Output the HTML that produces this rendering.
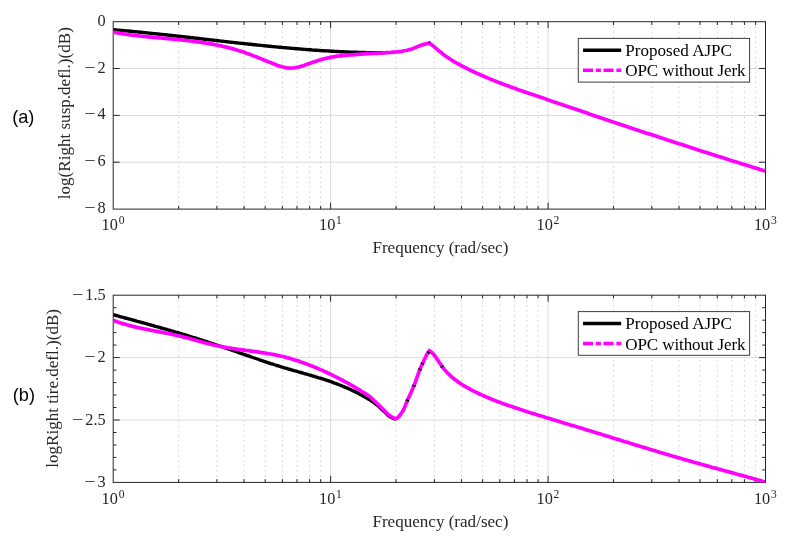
<!DOCTYPE html>
<html lang="en">
<head>
<meta charset="utf-8">
<title>Frequency response comparison</title>
<style>
html,body{margin:0;padding:0;background:#fff;}
body{width:788px;height:541px;overflow:hidden;}
svg{display:block;}
text{white-space:pre;}
</style>
</head>
<body>
<svg width="788" height="541" viewBox="0 0 788 541">
<rect width="788" height="541" fill="#fff"/>
<g font-family="'Liberation Serif', 'DejaVu Serif', serif">
<clipPath id="ca"><rect x="113.2" y="21.7" width="652.3" height="187.4"/></clipPath>
<path d="M178.7,21.7V209.1M216.9,21.7V209.1M244.1,21.7V209.1M265.2,21.7V209.1M282.4,21.7V209.1M297.0,21.7V209.1M309.6,21.7V209.1M320.7,21.7V209.1M396.1,21.7V209.1M434.4,21.7V209.1M461.5,21.7V209.1M482.6,21.7V209.1M499.8,21.7V209.1M514.4,21.7V209.1M527.0,21.7V209.1M538.1,21.7V209.1M613.5,21.7V209.1M651.8,21.7V209.1M679.0,21.7V209.1M700.0,21.7V209.1M717.3,21.7V209.1M731.8,21.7V209.1M744.4,21.7V209.1M755.6,21.7V209.1" stroke="#c9c9c9" stroke-width="1" stroke-dasharray="1.3 3.7" fill="none"/>
<path d="M330.6,21.7V209.1M548.1,21.7V209.1M113.2,68.5H765.5M113.2,115.4H765.5M113.2,162.2H765.5" stroke="#dcdcdc" stroke-width="1" fill="none"/>
<path d="M178.7,209.1v-3.3M178.7,21.7v3.3M216.9,209.1v-3.3M216.9,21.7v3.3M244.1,209.1v-3.3M244.1,21.7v3.3M265.2,209.1v-3.3M265.2,21.7v3.3M282.4,209.1v-3.3M282.4,21.7v3.3M297.0,209.1v-3.3M297.0,21.7v3.3M309.6,209.1v-3.3M309.6,21.7v3.3M320.7,209.1v-3.3M320.7,21.7v3.3M330.6,209.1v-6.5M330.6,21.7v6.5M396.1,209.1v-3.3M396.1,21.7v3.3M434.4,209.1v-3.3M434.4,21.7v3.3M461.5,209.1v-3.3M461.5,21.7v3.3M482.6,209.1v-3.3M482.6,21.7v3.3M499.8,209.1v-3.3M499.8,21.7v3.3M514.4,209.1v-3.3M514.4,21.7v3.3M527.0,209.1v-3.3M527.0,21.7v3.3M538.1,209.1v-3.3M538.1,21.7v3.3M548.1,209.1v-6.5M548.1,21.7v6.5M613.5,209.1v-3.3M613.5,21.7v3.3M651.8,209.1v-3.3M651.8,21.7v3.3M679.0,209.1v-3.3M679.0,21.7v3.3M700.0,209.1v-3.3M700.0,21.7v3.3M717.3,209.1v-3.3M717.3,21.7v3.3M731.8,209.1v-3.3M731.8,21.7v3.3M744.4,209.1v-3.3M744.4,21.7v3.3M755.6,209.1v-3.3M755.6,21.7v3.3M113.2,68.5h6.5M765.5,68.5h-6.5M113.2,115.4h6.5M765.5,115.4h-6.5M113.2,162.2h6.5M765.5,162.2h-6.5" stroke="#262626" stroke-width="1" fill="none"/>
<rect x="113.2" y="21.7" width="652.3" height="187.4" fill="none" stroke="#262626" stroke-width="1"/>
<g clip-path="url(#ca)" fill="none" stroke-linejoin="miter" stroke-miterlimit="3">
<path d="M113.3,29.7 L114.8,29.8 L116.3,30.0 L117.8,30.1 L119.3,30.2 L120.8,30.4 L122.3,30.5 L123.8,30.6 L125.3,30.8 L126.8,30.9 L128.3,31.0 L129.8,31.2 L131.2,31.3 L132.7,31.5 L134.2,31.6 L135.7,31.7 L137.2,31.9 L138.7,32.0 L140.2,32.2 L141.7,32.3 L143.2,32.5 L144.7,32.6 L146.2,32.8 L147.7,32.9 L149.2,33.1 L150.7,33.3 L152.2,33.4 L153.7,33.6 L155.2,33.7 L156.7,33.9 L158.2,34.0 L159.7,34.2 L161.2,34.4 L162.7,34.5 L164.1,34.7 L165.6,34.8 L167.1,35.0 L168.6,35.2 L170.1,35.3 L171.6,35.5 L173.1,35.7 L174.6,35.8 L176.1,36.0 L177.6,36.2 L179.1,36.3 L180.6,36.5 L182.1,36.7 L183.6,36.8 L185.1,37.0 L186.6,37.2 L188.1,37.3 L189.6,37.5 L191.1,37.7 L192.6,37.8 L194.1,38.0 L195.6,38.2 L197.1,38.3 L198.5,38.5 L200.0,38.7 L201.5,38.9 L203.0,39.0 L204.5,39.2 L206.0,39.4 L207.5,39.5 L209.0,39.7 L210.5,39.9 L212.0,40.0 L213.5,40.2 L215.0,40.4 L216.5,40.5 L218.0,40.7 L219.5,40.9 L221.0,41.1 L222.5,41.2 L224.0,41.4 L225.5,41.6 L227.0,41.7 L228.5,41.9 L230.0,42.1 L231.5,42.2 L232.9,42.4 L234.4,42.6 L235.9,42.7 L237.4,42.9 L238.9,43.1 L240.4,43.2 L241.9,43.4 L243.4,43.5 L244.9,43.7 L246.4,43.9 L247.9,44.0 L249.4,44.2 L250.9,44.3 L252.4,44.5 L253.9,44.7 L255.4,44.8 L256.9,45.0 L258.4,45.1 L259.9,45.3 L261.4,45.4 L262.9,45.6 L264.4,45.7 L265.8,45.9 L267.3,46.0 L268.8,46.2 L270.3,46.3 L271.8,46.5 L273.3,46.6 L274.8,46.8 L276.3,46.9 L277.8,47.1 L279.3,47.2 L280.8,47.3 L282.3,47.5 L283.8,47.6 L285.3,47.7 L286.8,47.9 L288.3,48.0 L289.8,48.1 L291.3,48.3 L292.8,48.4 L294.3,48.5 L295.8,48.7 L297.3,48.8 L298.8,48.9 L300.2,49.0 L301.7,49.1 L303.2,49.3 L304.7,49.4 L306.2,49.5 L307.7,49.6 L309.2,49.7 L310.7,49.8 L312.2,50.0 L313.7,50.1 L315.2,50.2 L316.7,50.3 L318.2,50.4 L319.7,50.5 L321.2,50.6 L322.7,50.7 L324.2,50.8 L325.7,50.9 L327.2,50.9 L328.7,51.0 L330.2,51.1 L331.7,51.2 L333.2,51.3 L334.6,51.4 L336.1,51.5 L337.6,51.5 L339.1,51.6 L340.6,51.7 L342.1,51.8 L343.6,51.8 L345.1,51.9 L346.6,52.0 L348.1,52.0 L349.6,52.1 L351.1,52.1 L352.6,52.2 L354.1,52.2 L355.6,52.3 L357.1,52.3 L358.6,52.4 L360.1,52.4 L361.6,52.5 L363.1,52.5 L364.6,52.5 L366.1,52.6 L367.5,52.6 L369.0,52.6 L370.5,52.7 L372.0,52.7 L373.5,52.7 L375.0,52.7 L376.5,52.7 L378.0,52.8 L379.5,52.8 L381.0,52.8 L382.5,52.8 L384.0,52.8" stroke="#000" stroke-width="3.4"/>
<path d="M113.3,32.2 L114.8,32.5 L116.3,32.7 L117.8,33.0 L119.3,33.2 L120.8,33.5 L122.3,33.7 L123.8,33.9 L125.3,34.1 L126.8,34.4 L128.3,34.6 L129.7,34.8 L131.2,35.0 L132.7,35.1 L134.2,35.3 L135.7,35.5 L137.2,35.7 L138.7,35.9 L140.2,36.0 L141.7,36.2 L143.2,36.3 L144.7,36.5 L146.2,36.6 L147.7,36.8 L149.2,36.9 L150.7,37.1 L152.2,37.2 L153.7,37.4 L155.2,37.5 L156.7,37.6 L158.2,37.8 L159.7,37.9 L161.1,38.0 L162.6,38.2 L164.1,38.3 L165.6,38.4 L167.1,38.6 L168.6,38.7 L170.1,38.8 L171.6,39.0 L173.1,39.1 L174.6,39.3 L176.1,39.4 L177.6,39.6 L179.1,39.7 L180.6,39.8 L182.1,40.0 L183.6,40.2 L185.1,40.3 L186.6,40.5 L188.1,40.7 L189.6,40.8 L191.1,41.0 L192.5,41.2 L194.0,41.4 L195.5,41.6 L197.0,41.8 L198.5,42.0 L200.0,42.2 L201.5,42.4 L203.0,42.6 L204.5,42.8 L206.0,43.1 L207.5,43.3 L209.0,43.6 L210.5,43.8 L212.0,44.1 L213.5,44.4 L215.0,44.7 L216.5,45.0 L218.0,45.3 L219.5,45.6 L221.0,45.9 L222.5,46.2 L223.9,46.6 L225.4,46.9 L226.9,47.3 L228.4,47.7 L229.9,48.1 L231.4,48.5 L232.9,48.9 L234.4,49.3 L235.9,49.7 L237.4,50.2 L238.9,50.7 L240.4,51.1 L241.9,51.6 L243.4,52.1 L244.9,52.6 L246.4,53.2 L247.9,53.7 L249.4,54.3 L250.9,54.8 L252.4,55.4 L253.8,56.0 L255.3,56.6 L256.8,57.1 L258.3,57.7 L259.8,58.3 L261.3,58.9 L262.8,59.5 L264.3,60.2 L265.8,60.8 L267.3,61.4 L268.8,62.0 L270.3,62.6 L271.8,63.1 L273.3,63.7 L274.8,64.3 L276.3,64.9 L277.8,65.4 L279.3,65.9 L280.8,66.4 L282.3,66.8 L283.8,67.2 L285.2,67.5 L286.7,67.8 L288.2,68.0 L289.7,68.1 L291.2,68.1 L292.7,68.0 L294.2,67.9 L295.7,67.6 L297.2,67.3 L298.7,67.0 L300.2,66.6 L301.7,66.1 L303.2,65.7 L304.7,65.2 L306.2,64.6 L307.7,64.1 L309.2,63.6 L310.7,63.0 L312.2,62.5 L313.7,62.0 L315.2,61.5 L316.6,61.0 L318.1,60.6 L319.6,60.1 L321.1,59.7 L322.6,59.2 L324.1,58.8 L325.6,58.4 L327.1,58.1 L328.6,57.7 L330.1,57.4 L331.6,57.1 L333.1,56.9 L334.6,56.6 L336.1,56.4 L337.6,56.2 L339.1,56.0 L340.6,55.8 L342.1,55.6 L343.6,55.5 L345.1,55.3 L346.6,55.2 L348.0,55.1 L349.5,55.0 L351.0,54.9 L352.5,54.8 L354.0,54.7 L355.5,54.6 L357.0,54.4 L358.5,54.3 L360.0,54.2 L361.5,54.1 L363.0,54.0 L364.5,53.9 L366.0,53.8 L367.4,53.7 L368.9,53.6 L370.4,53.6 L371.9,53.5 L373.3,53.4 L374.8,53.3 L376.3,53.3 L377.8,53.2 L379.2,53.1 L380.7,53.0 L382.2,53.0 L383.7,52.9 L385.1,52.8 L386.6,52.7 L388.1,52.6 L389.6,52.5 L391.0,52.4 L392.5,52.2 L394.0,52.1 L395.5,52.0 L396.9,51.8 L398.4,51.7 L399.9,51.5 L401.4,51.3 L402.8,51.1 L404.3,50.8 L405.8,50.5 L407.3,50.2 L408.7,49.8 L410.2,49.4 L411.7,48.9 L413.2,48.5 L414.6,47.9 L416.1,47.3 L417.6,46.6 L419.1,46.0 L420.5,45.4 L422.0,44.9 L423.5,44.4 L425.0,44.1 L426.4,43.7 L427.9,43.4 L429.4,43.0 L430.9,44.2 L432.4,45.4 L433.9,46.6 L435.4,47.9 L436.9,49.1 L438.4,50.4 L439.9,51.6 L441.4,52.8 L442.8,54.0 L444.3,55.2 L445.8,56.3 L447.3,57.3 L448.8,58.3 L450.3,59.3 L451.8,60.3 L453.3,61.2 L454.8,62.0 L456.3,62.9 L457.8,63.7 L459.3,64.5 L460.8,65.3 L462.3,66.1 L463.8,66.9 L465.3,67.6 L466.7,68.4 L468.2,69.1 L469.7,69.8 L471.2,70.6 L472.7,71.3 L474.2,72.0 L475.7,72.7 L477.2,73.4 L478.7,74.0 L480.2,74.7 L481.7,75.4 L483.2,76.0 L484.7,76.7 L486.2,77.3 L487.7,77.9 L489.2,78.6 L490.6,79.2 L492.1,79.8 L493.6,80.4 L495.1,81.0 L496.6,81.6 L498.1,82.2 L499.6,82.7 L501.1,83.3 L502.6,83.9 L504.1,84.5 L505.6,85.0 L507.1,85.6 L508.6,86.1 L510.1,86.7 L511.6,87.2 L513.1,87.8 L514.5,88.3 L516.0,88.8 L517.5,89.4 L519.0,89.9 L520.5,90.4 L522.0,90.9 L523.5,91.5 L525.0,92.0 L526.5,92.5 L528.0,93.0 L529.5,93.5 L531.0,94.0 L532.5,94.6 L534.0,95.1 L535.5,95.6 L537.0,96.1 L538.4,96.6 L539.9,97.1 L541.4,97.6 L542.9,98.1 L544.4,98.6 L545.9,99.1 L547.4,99.7 L548.9,100.2 L550.4,100.7 L551.9,101.2 L553.4,101.7 L554.9,102.2 L556.4,102.7 L557.9,103.2 L559.4,103.7 L560.9,104.2 L562.3,104.7 L563.8,105.2 L565.3,105.8 L566.8,106.3 L568.3,106.8 L569.8,107.3 L571.3,107.8 L572.8,108.3 L574.3,108.8 L575.8,109.3 L577.3,109.8 L578.8,110.3 L580.3,110.8 L581.8,111.3 L583.3,111.8 L584.8,112.3 L586.2,112.8 L587.7,113.3 L589.2,113.9 L590.7,114.4 L592.2,114.9 L593.7,115.4 L595.2,115.9 L596.7,116.4 L598.2,116.9 L599.7,117.4 L601.2,117.9 L602.7,118.4 L604.2,118.9 L605.7,119.4 L607.2,119.9 L608.7,120.4 L610.1,120.9 L611.6,121.4 L613.1,121.9 L614.6,122.4 L616.1,122.9 L617.6,123.4 L619.1,123.9 L620.6,124.4 L622.1,124.9 L623.6,125.4 L625.1,125.9 L626.6,126.4 L628.1,126.9 L629.6,127.4 L631.1,127.9 L632.6,128.4 L634.0,128.9 L635.5,129.4 L637.0,129.9 L638.5,130.4 L640.0,130.9 L641.5,131.4 L643.0,131.9 L644.5,132.4 L646.0,132.9 L647.5,133.4 L649.0,133.9 L650.5,134.3 L652.0,134.8 L653.5,135.3 L655.0,135.8 L656.5,136.3 L657.9,136.8 L659.4,137.3 L660.9,137.8 L662.4,138.3 L663.9,138.8 L665.4,139.3 L666.9,139.8 L668.4,140.2 L669.9,140.7 L671.4,141.2 L672.9,141.7 L674.4,142.2 L675.9,142.7 L677.4,143.2 L678.9,143.7 L680.4,144.1 L681.8,144.6 L683.3,145.1 L684.8,145.6 L686.3,146.1 L687.8,146.6 L689.3,147.1 L690.8,147.5 L692.3,148.0 L693.8,148.5 L695.3,149.0 L696.8,149.5 L698.3,150.0 L699.8,150.4 L701.3,150.9 L702.8,151.4 L704.3,151.9 L705.7,152.4 L707.2,152.8 L708.7,153.3 L710.2,153.8 L711.7,154.3 L713.2,154.7 L714.7,155.2 L716.2,155.7 L717.7,156.2 L719.2,156.6 L720.7,157.1 L722.2,157.6 L723.7,158.1 L725.2,158.5 L726.7,159.0 L728.2,159.5 L729.6,160.0 L731.1,160.4 L732.6,160.9 L734.1,161.4 L735.6,161.8 L737.1,162.3 L738.6,162.8 L740.1,163.2 L741.6,163.7 L743.1,164.2 L744.6,164.6 L746.1,165.1 L747.6,165.6 L749.1,166.0 L750.6,166.5 L752.1,167.0 L753.5,167.4 L755.0,167.9 L756.5,168.3 L758.0,168.8 L759.5,169.3 L761.0,169.7 L762.5,170.2 L764.0,170.6 L765.5,171.1" stroke="#ff00ff" stroke-width="3.7"/>
<path d="M-0.6,0H0.6" transform="translate(429.4,42.2) rotate(0)" stroke="#000" stroke-width="1.4"/>
</g>
<rect x="578.3" y="38.4" width="171.3" height="43.7" fill="#fff" stroke="#3c3c3c" stroke-width="1"/>
<path d="M583,50.3H621.2" stroke="#000" stroke-width="3.5" fill="none"/>
<path d="M583,70.2H621.2" stroke="#ff00ff" stroke-width="3.5" stroke-dasharray="10.1 2.8 5 2.6" fill="none"/>
<text x="625.3" y="55.8" font-size="17.07" fill="#000">Proposed AJPC</text>
<text x="625.3" y="76.3" font-size="17.07" fill="#000" textLength="120.3" lengthAdjust="spacing">OPC without Jerk</text>
<g font-family="'Liberation Serif', 'DejaVu Serif', serif" fill="#262626">
<text x="105.7" y="25.7" text-anchor="end" font-size="16.3">0</text>
<text transform="translate(84.3,72.5) scale(1.22,1)" font-size="16.3">−</text><text x="105.7" y="72.5" text-anchor="end" font-size="16.3">2</text>
<text transform="translate(84.3,119.4) scale(1.22,1)" font-size="16.3">−</text><text x="105.7" y="119.4" text-anchor="end" font-size="16.3">4</text>
<text transform="translate(84.3,166.2) scale(1.22,1)" font-size="16.3">−</text><text x="105.7" y="166.2" text-anchor="end" font-size="16.3">6</text>
<text transform="translate(84.3,213.1) scale(1.22,1)" font-size="16.3">−</text><text x="105.7" y="213.1" text-anchor="end" font-size="16.3">8</text>
<text x="101.6" y="229.8" font-size="16.3">10<tspan font-size="11.6" dy="-6.1" dx="0.8">0</tspan></text>
<text x="319.0" y="229.8" font-size="16.3">10<tspan font-size="11.6" dy="-6.1" dx="0.8">1</tspan></text>
<text x="536.5" y="229.8" font-size="16.3">10<tspan font-size="11.6" dy="-6.1" dx="0.8">2</tspan></text>
<text x="753.9" y="229.8" font-size="16.3">10<tspan font-size="11.6" dy="-6.1" dx="0.8">3</tspan></text>
</g>
<text x="440.4" y="253.4" font-size="17.07" text-anchor="middle" fill="#262626">Frequency (rad/sec)</text>
<text transform="translate(70.0,113.2) rotate(-90)" font-size="17.07" text-anchor="middle" fill="#262626">log(Right susp.defl.)(dB)</text>
<text x="23.3" y="123.0" text-anchor="middle" font-family="'Liberation Sans', 'DejaVu Sans', sans-serif" font-size="18.2" fill="#000">(a)</text>
<clipPath id="cb"><rect x="113.2" y="295.2" width="652.3" height="187.2"/></clipPath>
<path d="M178.7,295.2V482.4M216.9,295.2V482.4M244.1,295.2V482.4M265.2,295.2V482.4M282.4,295.2V482.4M297.0,295.2V482.4M309.6,295.2V482.4M320.7,295.2V482.4M396.1,295.2V482.4M434.4,295.2V482.4M461.5,295.2V482.4M482.6,295.2V482.4M499.8,295.2V482.4M514.4,295.2V482.4M527.0,295.2V482.4M538.1,295.2V482.4M613.5,295.2V482.4M651.8,295.2V482.4M679.0,295.2V482.4M700.0,295.2V482.4M717.3,295.2V482.4M731.8,295.2V482.4M744.4,295.2V482.4M755.6,295.2V482.4" stroke="#c9c9c9" stroke-width="1" stroke-dasharray="1.3 3.7" fill="none"/>
<path d="M330.6,295.2V482.4M548.1,295.2V482.4M113.2,357.6H765.5M113.2,420.0H765.5" stroke="#dcdcdc" stroke-width="1" fill="none"/>
<path d="M178.7,482.4v-3.3M178.7,295.2v3.3M216.9,482.4v-3.3M216.9,295.2v3.3M244.1,482.4v-3.3M244.1,295.2v3.3M265.2,482.4v-3.3M265.2,295.2v3.3M282.4,482.4v-3.3M282.4,295.2v3.3M297.0,482.4v-3.3M297.0,295.2v3.3M309.6,482.4v-3.3M309.6,295.2v3.3M320.7,482.4v-3.3M320.7,295.2v3.3M330.6,482.4v-6.5M330.6,295.2v6.5M396.1,482.4v-3.3M396.1,295.2v3.3M434.4,482.4v-3.3M434.4,295.2v3.3M461.5,482.4v-3.3M461.5,295.2v3.3M482.6,482.4v-3.3M482.6,295.2v3.3M499.8,482.4v-3.3M499.8,295.2v3.3M514.4,482.4v-3.3M514.4,295.2v3.3M527.0,482.4v-3.3M527.0,295.2v3.3M538.1,482.4v-3.3M538.1,295.2v3.3M548.1,482.4v-6.5M548.1,295.2v6.5M613.5,482.4v-3.3M613.5,295.2v3.3M651.8,482.4v-3.3M651.8,295.2v3.3M679.0,482.4v-3.3M679.0,295.2v3.3M700.0,482.4v-3.3M700.0,295.2v3.3M717.3,482.4v-3.3M717.3,295.2v3.3M731.8,482.4v-3.3M731.8,295.2v3.3M744.4,482.4v-3.3M744.4,295.2v3.3M755.6,482.4v-3.3M755.6,295.2v3.3M113.2,357.6h6.5M765.5,357.6h-6.5M113.2,420.0h6.5M765.5,420.0h-6.5M113.2,307.7h3.3M765.5,307.7h-3.3M113.2,320.2h3.3M765.5,320.2h-3.3M113.2,332.6h3.3M765.5,332.6h-3.3M113.2,345.1h3.3M765.5,345.1h-3.3M113.2,370.1h3.3M765.5,370.1h-3.3M113.2,382.6h3.3M765.5,382.6h-3.3M113.2,395.0h3.3M765.5,395.0h-3.3M113.2,407.5h3.3M765.5,407.5h-3.3M113.2,432.5h3.3M765.5,432.5h-3.3M113.2,445.0h3.3M765.5,445.0h-3.3M113.2,457.4h3.3M765.5,457.4h-3.3M113.2,469.9h3.3M765.5,469.9h-3.3" stroke="#262626" stroke-width="1" fill="none"/>
<rect x="113.2" y="295.2" width="652.3" height="187.2" fill="none" stroke="#262626" stroke-width="1"/>
<g clip-path="url(#cb)" fill="none" stroke-linejoin="miter" stroke-miterlimit="3">
<path d="M113.3,314.7 L114.8,315.1 L116.3,315.5 L117.8,315.9 L119.3,316.3 L120.8,316.8 L122.3,317.2 L123.8,317.6 L125.3,318.0 L126.8,318.4 L128.3,318.8 L129.8,319.2 L131.3,319.6 L132.8,320.0 L134.3,320.4 L135.8,320.8 L137.3,321.3 L138.8,321.7 L140.3,322.1 L141.8,322.5 L143.3,322.9 L144.8,323.3 L146.3,323.7 L147.8,324.2 L149.3,324.6 L150.8,325.0 L152.3,325.4 L153.8,325.8 L155.3,326.3 L156.8,326.7 L158.3,327.1 L159.8,327.5 L161.3,328.0 L162.8,328.4 L164.3,328.8 L165.8,329.2 L167.3,329.7 L168.8,330.1 L170.3,330.5 L171.8,331.0 L173.3,331.4 L174.8,331.9 L176.3,332.3 L177.8,332.7 L179.3,333.2 L180.8,333.6 L182.3,334.1 L183.8,334.5 L185.3,335.0 L186.8,335.4 L188.3,335.9 L189.8,336.4 L191.3,336.8 L192.8,337.3 L194.3,337.7 L195.8,338.2 L197.3,338.7 L198.8,339.1 L200.3,339.6 L201.8,340.1 L203.3,340.6 L204.8,341.1 L206.3,341.5 L207.8,342.0 L209.3,342.5 L210.8,343.0 L212.3,343.5 L213.8,344.0 L215.3,344.5 L216.8,345.0 L218.3,345.5 L219.8,346.0 L221.3,346.5 L222.8,347.0 L224.3,347.5 L225.8,348.1 L227.3,348.6 L228.8,349.1 L230.3,349.6 L231.8,350.1 L233.3,350.7 L234.8,351.2 L236.3,351.7 L237.8,352.2 L239.3,352.8 L240.8,353.3 L242.3,353.8 L243.8,354.3 L245.3,354.9 L246.8,355.4 L248.3,355.9 L249.8,356.4 L251.3,357.0 L252.8,357.5 L254.3,358.0 L255.8,358.5 L257.3,359.0 L258.8,359.5 L260.3,360.1 L261.8,360.6 L263.3,361.1 L264.8,361.6 L266.3,362.1 L267.8,362.6 L269.3,363.1 L270.8,363.6 L272.3,364.0 L273.8,364.5 L275.3,365.0 L276.8,365.5 L278.3,365.9 L279.8,366.4 L281.3,366.9 L282.8,367.3 L284.3,367.8 L285.8,368.2 L287.3,368.7 L288.8,369.1 L290.3,369.5 L291.8,370.0 L293.3,370.4 L294.8,370.8 L296.3,371.2 L297.8,371.7 L299.3,372.1 L300.8,372.5 L302.3,372.9 L303.8,373.4 L305.3,373.8 L306.8,374.2 L308.3,374.7 L309.8,375.1 L311.3,375.5 L312.8,376.0 L314.3,376.4 L315.8,376.9 L317.3,377.3 L318.8,377.8 L320.3,378.2 L321.8,378.7 L323.3,379.2 L324.8,379.7 L326.3,380.2 L327.8,380.7 L329.3,381.2 L330.8,381.7 L332.3,382.2 L333.8,382.8 L335.3,383.3 L336.8,383.9 L338.3,384.5 L339.8,385.0 L341.3,385.6 L342.8,386.2 L344.3,386.9 L345.8,387.5 L347.3,388.1 L348.8,388.8 L350.3,389.5 L351.8,390.2 L353.3,390.9 L354.8,391.6 L356.3,392.4 L357.8,393.1 L359.3,393.9 L360.8,394.7 L362.3,395.5 L363.8,396.4 L365.3,397.2 L366.8,398.1 L368.3,399.0 L369.8,399.9 L371.3,400.9 L372.8,401.9 L374.2,402.9 L375.7,404.1 L377.2,405.2 L378.7,406.4 L380.1,407.8 L381.6,409.2 L383.1,410.6 L384.6,411.9 L386.1,413.4 L387.5,414.9 L389.0,416.1 L390.5,417.0 L392.0,417.7 L393.4,418.4 L394.9,418.9 L396.4,419.2" stroke="#000" stroke-width="3.4"/>
<path d="M113.3,320.3 L114.8,320.9 L116.3,321.4 L117.8,322.0 L119.3,322.5 L120.8,323.0 L122.3,323.4 L123.8,323.9 L125.3,324.3 L126.8,324.8 L128.3,325.2 L129.8,325.6 L131.3,326.0 L132.8,326.4 L134.3,326.7 L135.8,327.1 L137.3,327.4 L138.8,327.8 L140.3,328.1 L141.8,328.4 L143.3,328.7 L144.8,329.0 L146.3,329.3 L147.8,329.6 L149.3,329.9 L150.8,330.2 L152.3,330.5 L153.8,330.8 L155.3,331.1 L156.8,331.3 L158.3,331.6 L159.8,331.9 L161.3,332.2 L162.8,332.5 L164.3,332.8 L165.8,333.0 L167.3,333.3 L168.8,333.6 L170.3,333.9 L171.8,334.3 L173.3,334.6 L174.8,334.9 L176.3,335.2 L177.8,335.6 L179.3,335.9 L180.8,336.3 L182.3,336.7 L183.8,337.1 L185.3,337.4 L186.8,337.8 L188.3,338.2 L189.8,338.6 L191.3,339.1 L192.8,339.5 L194.3,339.9 L195.8,340.3 L197.3,340.7 L198.8,341.1 L200.3,341.5 L201.8,341.9 L203.3,342.4 L204.8,342.8 L206.3,343.1 L207.8,343.5 L209.3,343.9 L210.8,344.3 L212.3,344.7 L213.8,345.0 L215.3,345.4 L216.8,345.7 L218.3,346.0 L219.8,346.3 L221.3,346.6 L222.8,346.9 L224.3,347.2 L225.8,347.4 L227.3,347.7 L228.8,348.0 L230.3,348.2 L231.8,348.4 L233.3,348.7 L234.8,348.9 L236.3,349.1 L237.8,349.3 L239.3,349.5 L240.8,349.7 L242.3,349.9 L243.8,350.1 L245.3,350.3 L246.8,350.5 L248.3,350.7 L249.8,350.9 L251.3,351.1 L252.8,351.3 L254.3,351.5 L255.8,351.7 L257.3,351.9 L258.8,352.1 L260.3,352.3 L261.8,352.6 L263.3,352.8 L264.8,353.0 L266.3,353.3 L267.8,353.5 L269.3,353.8 L270.8,354.0 L272.3,354.3 L273.8,354.6 L275.3,354.9 L276.8,355.2 L278.3,355.5 L279.8,355.8 L281.3,356.2 L282.8,356.5 L284.3,356.9 L285.8,357.3 L287.3,357.7 L288.8,358.1 L290.3,358.5 L291.8,359.0 L293.3,359.4 L294.8,359.9 L296.3,360.4 L297.8,360.8 L299.3,361.3 L300.8,361.9 L302.3,362.4 L303.8,362.9 L305.3,363.5 L306.8,364.0 L308.3,364.6 L309.8,365.2 L311.3,365.8 L312.8,366.4 L314.3,367.0 L315.8,367.6 L317.3,368.3 L318.8,368.9 L320.3,369.6 L321.8,370.2 L323.3,370.9 L324.8,371.6 L326.3,372.3 L327.8,373.0 L329.3,373.7 L330.8,374.4 L332.3,375.1 L333.8,375.9 L335.3,376.6 L336.8,377.4 L338.3,378.1 L339.8,378.9 L341.3,379.7 L342.8,380.5 L344.3,381.3 L345.8,382.1 L347.3,382.9 L348.8,383.7 L350.3,384.6 L351.8,385.4 L353.3,386.3 L354.8,387.2 L356.3,388.1 L357.8,389.0 L359.3,389.9 L360.8,390.8 L362.3,391.7 L363.8,392.7 L365.3,393.6 L366.8,394.6 L368.3,395.6 L369.8,396.6 L371.3,397.9 L372.7,399.3 L374.2,400.7 L375.7,402.1 L377.1,403.5 L378.6,404.9 L380.1,406.4 L381.5,407.8 L383.0,409.3 L384.5,410.8 L385.9,412.3 L387.4,413.8 L388.9,415.1 L390.3,416.0 L391.8,416.9 L393.3,417.6 L394.7,418.2 L396.2,418.6 L397.6,417.7 L399.1,416.2 L400.5,414.4 L402.0,412.3 L403.4,410.0 L404.9,406.8 L406.3,403.2 L407.7,399.7 L409.2,396.5 L410.6,393.4 L412.1,390.1 L413.5,386.8 L415.0,383.1 L416.4,379.0 L417.9,374.8 L419.3,370.9 L420.7,367.4 L422.2,364.4 L423.6,361.2 L425.1,358.0 L426.5,355.1 L428.0,352.7 L429.4,350.7 L430.9,351.7 L432.4,353.1 L433.9,354.8 L435.4,356.7 L436.9,358.8 L438.4,361.1 L439.9,363.3 L441.4,365.5 L442.8,367.5 L444.3,369.4 L445.8,371.1 L447.3,372.7 L448.8,374.2 L450.3,375.6 L451.8,377.0 L453.3,378.3 L454.8,379.5 L456.3,380.6 L457.8,381.7 L459.3,382.8 L460.8,383.8 L462.3,384.7 L463.8,385.7 L465.3,386.5 L466.7,387.4 L468.2,388.2 L469.7,389.0 L471.2,389.8 L472.7,390.6 L474.2,391.3 L475.7,392.1 L477.2,392.8 L478.7,393.5 L480.2,394.2 L481.7,394.9 L483.2,395.6 L484.7,396.2 L486.2,396.9 L487.7,397.5 L489.2,398.2 L490.6,398.8 L492.1,399.4 L493.6,400.0 L495.1,400.6 L496.6,401.2 L498.1,401.8 L499.6,402.3 L501.1,402.9 L502.6,403.5 L504.1,404.0 L505.6,404.5 L507.1,405.1 L508.6,405.6 L510.1,406.1 L511.6,406.6 L513.1,407.1 L514.5,407.6 L516.0,408.1 L517.5,408.6 L519.0,409.1 L520.5,409.6 L522.0,410.1 L523.5,410.6 L525.0,411.0 L526.5,411.5 L528.0,412.0 L529.5,412.4 L531.0,412.9 L532.5,413.4 L534.0,413.8 L535.5,414.3 L537.0,414.7 L538.4,415.2 L539.9,415.6 L541.4,416.1 L542.9,416.5 L544.4,417.0 L545.9,417.5 L547.4,417.9 L548.9,418.4 L550.4,418.8 L551.9,419.3 L553.4,419.7 L554.9,420.2 L556.4,420.6 L557.9,421.1 L559.4,421.5 L560.9,422.0 L562.3,422.4 L563.8,422.9 L565.3,423.4 L566.8,423.8 L568.3,424.3 L569.8,424.7 L571.3,425.2 L572.8,425.6 L574.3,426.1 L575.8,426.5 L577.3,427.0 L578.8,427.4 L580.3,427.9 L581.8,428.3 L583.3,428.8 L584.8,429.3 L586.2,429.7 L587.7,430.2 L589.2,430.6 L590.7,431.1 L592.2,431.5 L593.7,432.0 L595.2,432.5 L596.7,432.9 L598.2,433.4 L599.7,433.8 L601.2,434.3 L602.7,434.8 L604.2,435.2 L605.7,435.7 L607.2,436.1 L608.7,436.6 L610.1,437.1 L611.6,437.5 L613.1,438.0 L614.6,438.4 L616.1,438.9 L617.6,439.4 L619.1,439.8 L620.6,440.3 L622.1,440.8 L623.6,441.2 L625.1,441.7 L626.6,442.1 L628.1,442.6 L629.6,443.1 L631.1,443.5 L632.6,444.0 L634.0,444.4 L635.5,444.9 L637.0,445.4 L638.5,445.8 L640.0,446.3 L641.5,446.7 L643.0,447.2 L644.5,447.6 L646.0,448.1 L647.5,448.6 L649.0,449.0 L650.5,449.5 L652.0,449.9 L653.5,450.4 L655.0,450.8 L656.5,451.3 L657.9,451.7 L659.4,452.2 L660.9,452.6 L662.4,453.1 L663.9,453.5 L665.4,454.0 L666.9,454.4 L668.4,454.8 L669.9,455.3 L671.4,455.7 L672.9,456.2 L674.4,456.6 L675.9,457.0 L677.4,457.5 L678.9,457.9 L680.4,458.3 L681.8,458.8 L683.3,459.2 L684.8,459.6 L686.3,460.0 L687.8,460.5 L689.3,460.9 L690.8,461.3 L692.3,461.7 L693.8,462.2 L695.3,462.6 L696.8,463.0 L698.3,463.4 L699.8,463.8 L701.3,464.3 L702.8,464.7 L704.3,465.1 L705.7,465.5 L707.2,465.9 L708.7,466.3 L710.2,466.7 L711.7,467.2 L713.2,467.6 L714.7,468.0 L716.2,468.4 L717.7,468.8 L719.2,469.2 L720.7,469.6 L722.2,470.0 L723.7,470.5 L725.2,470.9 L726.7,471.3 L728.2,471.7 L729.6,472.1 L731.1,472.5 L732.6,472.9 L734.1,473.3 L735.6,473.7 L737.1,474.2 L738.6,474.6 L740.1,475.0 L741.6,475.4 L743.1,475.8 L744.6,476.2 L746.1,476.6 L747.6,477.1 L749.1,477.5 L750.6,477.9 L752.1,478.3 L753.5,478.7 L755.0,479.1 L756.5,479.6 L758.0,480.0 L759.5,480.4 L761.0,480.8 L762.5,481.3 L764.0,481.7 L765.5,482.1" stroke="#ff00ff" stroke-width="3.7"/>
<path d="M-0.8,0H0.8" transform="translate(407.4,400.5) rotate(-66)" stroke="#000" stroke-width="3.5"/>
<path d="M-0.8,0H0.8" transform="translate(414.0,385.9) rotate(-68)" stroke="#000" stroke-width="3.5"/>
<path d="M-0.8,0H0.8" transform="translate(420.0,369.5) rotate(-68)" stroke="#000" stroke-width="3.5"/>
<path d="M-0.8,0H0.8" transform="translate(422.3,363.6) rotate(-66)" stroke="#000" stroke-width="3.5"/>
<path d="M-0.8,0H0.8" transform="translate(428.5,352.4) rotate(-58)" stroke="#000" stroke-width="3.5"/>
<path d="M-0.8,0H0.8" transform="translate(442.0,366.6) rotate(56)" stroke="#000" stroke-width="3.5"/>
</g>
<rect x="578.3" y="311.6" width="171.3" height="43.7" fill="#fff" stroke="#3c3c3c" stroke-width="1"/>
<path d="M583,323.5H621.2" stroke="#000" stroke-width="3.5" fill="none"/>
<path d="M583,343.4H621.2" stroke="#ff00ff" stroke-width="3.5" stroke-dasharray="10.1 2.8 5 2.6" fill="none"/>
<text x="625.3" y="329.0" font-size="17.07" fill="#000">Proposed AJPC</text>
<text x="625.3" y="349.5" font-size="17.07" fill="#000" textLength="120.3" lengthAdjust="spacing">OPC without Jerk</text>
<g font-family="'Liberation Serif', 'DejaVu Serif', serif" fill="#262626">
<text transform="translate(72.1,299.8) scale(1.22,1)" font-size="16.3">−</text><text x="105.7" y="299.8" text-anchor="end" font-size="16.3">1.5</text>
<text transform="translate(84.3,362.2) scale(1.22,1)" font-size="16.3">−</text><text x="105.7" y="362.2" text-anchor="end" font-size="16.3">2</text>
<text transform="translate(72.1,424.6) scale(1.22,1)" font-size="16.3">−</text><text x="105.7" y="424.6" text-anchor="end" font-size="16.3">2.5</text>
<text transform="translate(84.3,487.0) scale(1.22,1)" font-size="16.3">−</text><text x="105.7" y="487.0" text-anchor="end" font-size="16.3">3</text>
<text x="101.6" y="504.0" font-size="16.3">10<tspan font-size="11.6" dy="-6.1" dx="0.8">0</tspan></text>
<text x="319.0" y="504.0" font-size="16.3">10<tspan font-size="11.6" dy="-6.1" dx="0.8">1</tspan></text>
<text x="536.5" y="504.0" font-size="16.3">10<tspan font-size="11.6" dy="-6.1" dx="0.8">2</tspan></text>
<text x="753.9" y="504.0" font-size="16.3">10<tspan font-size="11.6" dy="-6.1" dx="0.8">3</tspan></text>
</g>
<text x="440.4" y="526.7" font-size="17.07" text-anchor="middle" fill="#262626">Frequency (rad/sec)</text>
<text transform="translate(57.8,388.4) rotate(-90)" font-size="17.07" text-anchor="middle" fill="#262626">logRight tire.defl.)(dB)</text>
<text x="23.9" y="401.4" text-anchor="middle" font-family="'Liberation Sans', 'DejaVu Sans', sans-serif" font-size="18.2" fill="#000">(b)</text>
</g>
</svg>
</body>
</html>
